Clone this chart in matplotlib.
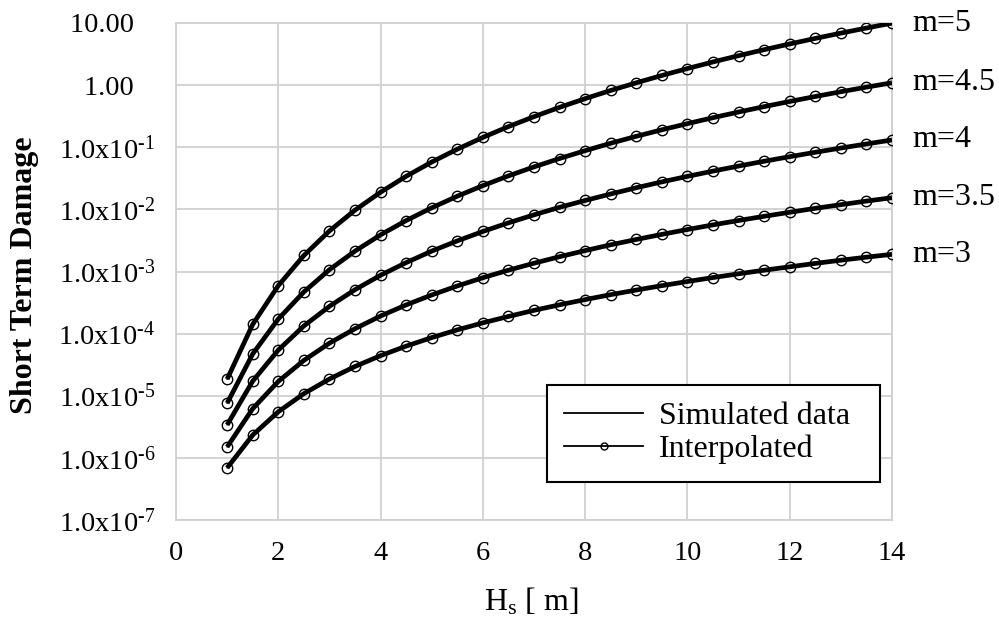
import matplotlib
matplotlib.use("Agg")
import matplotlib.pyplot as plt
from matplotlib.lines import Line2D

plt.rcParams["font.family"] = ["Liberation Serif", "DejaVu Serif"]
plt.rcParams["mathtext.default"] = "regular"

# Significant wave height [m]
hs = [1.0, 1.5, 2.0, 2.5, 3.0, 3.5, 4.0, 4.5, 5.0, 5.5, 6.0, 6.5, 7.0, 7.5,
      8.0, 8.5, 9.0, 9.5, 10.0, 10.5, 11.0, 11.5, 12.0, 12.5, 13.0, 13.5, 14.0]

# Short term damage for each S-N slope m
dmg_m3 = [6.90e-7, 2.33e-6, 5.52e-6, 1.08e-5, 1.86e-5, 2.96e-5, 4.42e-5,
          6.29e-5, 8.63e-5, 1.15e-4, 1.49e-4, 1.89e-4, 2.37e-4, 2.91e-4,
          3.53e-4, 4.24e-4, 5.03e-4, 5.92e-4, 6.90e-4, 7.99e-4, 9.18e-4,
          1.05e-3, 1.19e-3, 1.35e-3, 1.52e-3, 1.70e-3, 1.89e-3]
dmg_m35 = [1.50e-6, 6.20e-6, 1.70e-5, 3.71e-5, 7.02e-5, 1.20e-4, 1.92e-4,
           2.90e-4, 4.19e-4, 5.85e-4, 7.94e-4, 1.05e-3, 1.36e-3, 1.73e-3,
           2.17e-3, 2.69e-3, 3.28e-3, 3.96e-3, 4.74e-3, 5.63e-3, 6.62e-3,
           7.74e-3, 8.98e-3, 1.04e-2, 1.19e-2, 1.36e-2, 1.54e-2]
dmg_m4 = [3.40e-6, 1.72e-5, 5.44e-5, 1.33e-4, 2.75e-4, 5.10e-4, 8.70e-4,
          1.39e-3, 2.13e-3, 3.11e-3, 4.41e-3, 6.07e-3, 8.16e-3, 1.08e-2,
          1.39e-2, 1.77e-2, 2.23e-2, 2.77e-2, 3.40e-2, 4.13e-2, 4.98e-2,
          5.95e-2, 7.05e-2, 8.30e-2, 9.71e-2, 1.13e-1, 1.31e-1]
dmg_m45 = [7.60e-6, 4.71e-5, 1.72e-4, 4.69e-4, 1.07e-3, 2.13e-3, 3.89e-3,
           6.61e-3, 1.06e-2, 1.63e-2, 2.41e-2, 3.46e-2, 4.83e-2, 6.59e-2,
           8.81e-2, 1.16e-1, 1.50e-1, 1.91e-1, 2.40e-1, 2.99e-1, 3.69e-1,
           4.51e-1, 5.46e-1, 6.56e-1, 7.83e-1, 9.28e-1, 1.09]
dmg_m5 = [1.85e-5, 1.41e-4, 5.92e-4, 1.81e-3, 4.50e-3, 9.72e-3, 1.89e-2,
          3.41e-2, 5.78e-2, 9.31e-2, 1.44e-1, 2.15e-1, 3.11e-1, 4.39e-1,
          6.06e-1, 8.21e-1, 1.09, 1.43, 1.85, 2.36, 2.98,
          3.72, 4.60, 5.65, 6.87, 8.30, 9.95]

series = [dmg_m3, dmg_m35, dmg_m4, dmg_m45, dmg_m5]
series_labels = ["m=3", "m=3.5", "m=4", "m=4.5", "m=5"]

x_ticks = [0, 2, 4, 6, 8, 10, 12, 14]
y_ticks = [1e-7, 1e-6, 1e-5, 1e-4, 1e-3, 1e-2, 1e-1, 1, 10]
y_tick_labels = ["1.0x10$^{\u20107}$", "1.0x10$^{\u20106}$", "1.0x10$^{\u20105}$",
                 "1.0x10$^{\u20104}$", "1.0x10$^{\u20103}$", "1.0x10$^{\u20102}$",
                 "1.0x10$^{\u20101}$", "1.00   ", "10.00   "]

FS_TICK = 20.5
FS_TEXT = 23
GRID = "#d0d0d0"

fig = plt.figure(figsize=(9.99, 6.21), dpi=100)
ax = fig.add_axes([176 / 999, 101 / 621, 716 / 999, 497 / 621])

for vals, lab in zip(series, series_labels):
    ax.plot(hs, vals, color="black", lw=3.4, solid_capstyle="butt", zorder=3)
    ax.plot(hs, vals, color="black", lw=1.0, marker="o", ms=7.5,
            mfc="none", mec="black", mew=1.0, zorder=4)
    ax.annotate(lab, xy=(hs[-1], vals[-1]), xytext=(15, 0),
                textcoords="offset points", va="center", ha="left",
                fontsize=FS_TEXT, annotation_clip=False)

ax.set_yscale("log")
ax.set_xlim(0, 14)
ax.set_ylim(1e-7, 10)
ax.set_xticks(x_ticks)
ax.set_xticklabels([str(v) for v in x_ticks])
ax.set_yticks(y_ticks)
ax.set_yticklabels(y_tick_labels)
ax.yaxis.set_minor_locator(matplotlib.ticker.NullLocator())
ax.tick_params(axis="both", length=0, labelsize=FS_TICK)
ax.tick_params(axis="x", pad=15)
ax.tick_params(axis="y", pad=15)

ax.grid(True, which="major", color=GRID, lw=1.3)
ax.set_axisbelow(True)
for sp in ax.spines.values():
    sp.set_color(GRID)
    sp.set_linewidth(1.3)

fig.text(531 / 999, 1 - 602 / 621, "H$_{s}$ [ m]", fontsize=FS_TEXT,
         ha="center", va="center")
fig.text(25 / 999, 1 - 275 / 621, "Short Term Damage", fontsize=FS_TEXT,
         fontweight="bold", rotation=90, ha="center", va="center")

handles = [Line2D([], [], color="black", lw=1.3),
           Line2D([], [], color="black", lw=1.3, marker="o", ms=5,
                  mfc="none", mec="black", mew=1.0)]
leg = ax.legend(handles, ["Simulated data", "Interpolated"],
                loc="lower left", bbox_to_anchor=(0.518, 0.077, 0.465, 0.2),
                mode="expand",
                fontsize=FS_TEXT, frameon=True, fancybox=False, framealpha=1,
                edgecolor="black", handlelength=2.45, handletextpad=0.5,
                labelspacing=0.1, borderpad=0.55, borderaxespad=0)
leg.get_frame().set_linewidth(1.5)

fig.savefig("out.png", dpi=100)
